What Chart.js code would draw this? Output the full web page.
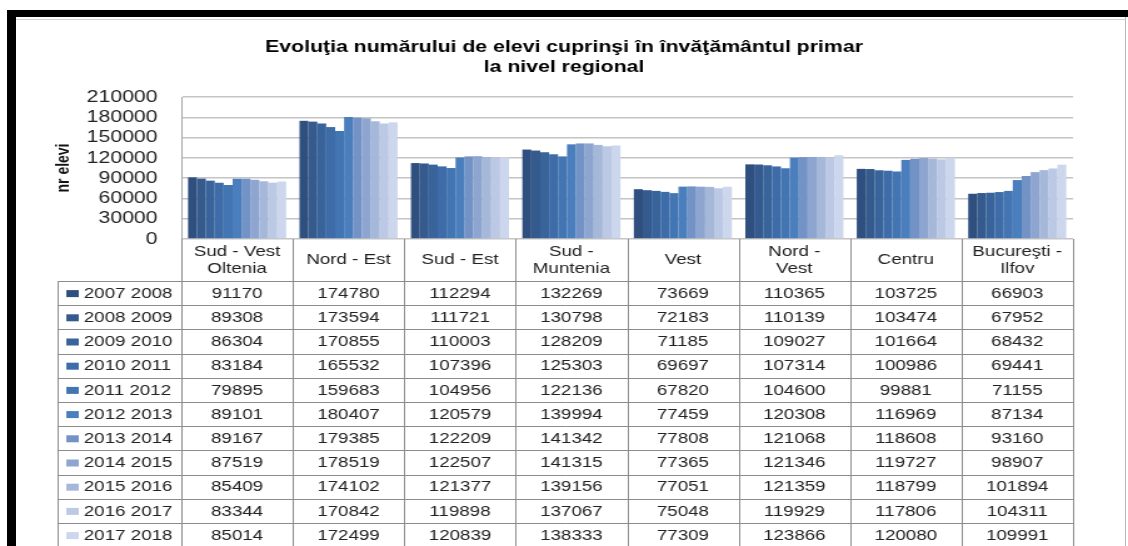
<!DOCTYPE html>
<html lang="ro">
<head>
  <meta charset="UTF-8">
  <title>Evoluţia numărului de elevi</title>
  <script src="https://cdn.jsdelivr.net/npm/chart.js"></script>
  <style>
    body { margin: 0; background: #fff; }
    #wrap { position: relative; width: 1128px; height: 546px; overflow: hidden; }
    /* the source picture is a screenshot stretched sideways, so the canvas is drawn narrow and widened by CSS */
    #chart { position: absolute; left: 0; top: 0; width: 1128px; height: 546px; }
    .frame { position: absolute; }
  </style>
</head>
<body>
  <div id="wrap">
    <canvas id="chart" width="902" height="546" style="width:1128px;height:546px"></canvas>
    <div class="frame" style="left:7px;top:10px;width:1121px;height:7px;background:#000"></div>
    <div class="frame" style="left:7px;top:10px;width:9px;height:536px;background:#000"></div>
    <div class="frame" style="left:16px;top:19px;width:1110px;height:1px;background:#d0d0d0"></div>
    <div class="frame" style="left:1125px;top:17px;width:1px;height:529px;background:#b8b8b8"></div>
  </div>

  <script>
    // regions (categories)
    const regions = [
      ['Sud - Vest', 'Oltenia'], 'Nord - Est', 'Sud - Est', ['Sud -', 'Muntenia'],
      'Vest', ['Nord -', 'Vest'], 'Centru', ['Bucureşti -', 'Ilfov']
    ];

    // school years (series)
    const years = ['2007 2008', '2008 2009', '2009 2010', '2010 2011', '2011 2012', '2012 2013',
                   '2013 2014', '2014 2015', '2015 2016', '2016 2017', '2017 2018'];

    const y0708 = [91170, 174780, 112294, 132269, 73669, 110365, 103725, 66903];
    const y0809 = [89308, 173594, 111721, 130798, 72183, 110139, 103474, 67952];
    const y0910 = [86304, 170855, 110003, 128209, 71185, 109027, 101664, 68432];
    const y1011 = [83184, 165532, 107396, 125303, 69697, 107314, 100986, 69441];
    const y1112 = [79895, 159683, 104956, 122136, 67820, 104600, 99881, 71155];
    const y1213 = [89101, 180407, 120579, 139994, 77459, 120308, 116969, 87134];
    const y1314 = [89167, 179385, 122209, 141342, 77808, 121068, 118608, 93160];
    const y1415 = [87519, 178519, 122507, 141315, 77365, 121346, 119727, 98907];
    const y1516 = [85409, 174102, 121377, 139156, 77051, 121359, 118799, 101894];
    const y1617 = [83344, 170842, 119898, 137067, 75048, 119929, 117806, 104311];
    const y1718 = [85014, 172499, 120839, 138333, 77309, 123866, 120080, 109991];

    const seriesValues = [y0708, y0809, y0910, y1011, y1112, y1213, y1314, y1415, y1516, y1617, y1718];

    const colors = ['#2f4f7f', '#345a8e', '#39639b', '#3e6ca8', '#4375b3', '#4a7ebd',
                    '#7393c6', '#8da5cf', '#a6b8da', '#bcc9e4', '#ccd6ec'];

    const yTicks = [0, 30000, 60000, 90000, 120000, 150000, 180000, 210000];

    const textColor = '#222';
    const lineColor = '#8c8c8c';

    // data table under the plot, columns follow the x scale
    const dataTable = {
      id: 'dataTable',
      afterDraw(chart) {
        const ctx = chart.ctx;
        const xs = chart.scales.x;
        const area = chart.chartArea;
        const colW = (area.right - area.left) / regions.length;
        const legendLeft = 46.5;
        const headTop = area.bottom;
        const headBottom = headTop + 42;
        const rowH = 24.2;
        const tableBottom = headBottom + years.length * rowH;

        ctx.save();
        ctx.strokeStyle = lineColor;
        ctx.lineWidth = 1;
        ctx.beginPath();
        // vertical lines
        for (let i = 0; i <= regions.length; i++) {
          const x = Math.round(area.left + i * colW) + 0.5;
          ctx.moveTo(x, headTop);
          ctx.lineTo(x, tableBottom);
        }
        ctx.moveTo(legendLeft, headBottom);
        ctx.lineTo(legendLeft, tableBottom);
        // horizontal lines
        for (let r = 0; r <= years.length; r++) {
          const y = Math.round(headBottom + r * rowH) + 0.5;
          ctx.moveTo(legendLeft, y);
          ctx.lineTo(area.right, y);
        }
        ctx.stroke();

        ctx.fillStyle = textColor;
        ctx.textAlign = 'center';
        ctx.textBaseline = 'middle';
        ctx.font = '15px "Liberation Sans", Arial, sans-serif';

        // header labels
        regions.forEach((lab, i) => {
          const cx = xs.getPixelForTick(i);
          const lines = Array.isArray(lab) ? lab : [lab];
          const mid = (headTop + headBottom) / 2;
          lines.forEach((t, k) => {
            ctx.fillText(t, cx, mid + (k - (lines.length - 1) / 2) * 17);
          });
        });

        // rows
        years.forEach((yr, r) => {
          const cy = headBottom + r * rowH + rowH / 2 + 0.5;
          ctx.fillStyle = colors[r];
          ctx.fillRect(53, cy - 3.5, 10, 7);
          ctx.fillStyle = textColor;
          ctx.textAlign = 'left';
          ctx.fillText(yr, 67, cy);
          ctx.textAlign = 'center';
          seriesValues[r].forEach((v, i) => {
            ctx.fillText(String(v), xs.getPixelForTick(i), cy);
          });
        });
        ctx.restore();
      }
    };

    new Chart(document.getElementById('chart'), {
      type: 'bar',
      data: {
        labels: regions,
        datasets: years.map((yr, i) => ({
          label: yr,
          data: seriesValues[i],
          backgroundColor: colors[i],
          borderWidth: 0,
          categoryPercentage: 0.88,
          barPercentage: 1.0
        }))
      },
      options: {
        responsive: false,
        animation: false,
        devicePixelRatio: 1,
        layout: { padding: { left: 0, right: 0, top: 0, bottom: 307 } },
        plugins: {
          legend: { display: false },
          tooltip: { enabled: false },
          title: {
            display: true,
            text: ['Evoluţia numărului de elevi cuprinşi în învăţământul primar', 'la nivel regional'],
            color: '#000',
            font: { family: '"Liberation Sans", Arial, sans-serif', size: 17, weight: 'bold', lineHeight: 20 / 17 },
            padding: { top: 37, bottom: 20 }
          }
        },
        scales: {
          x: {
            display: false
          },
          y: {
            min: 0,
            max: 210000,
            afterBuildTicks: (s) => { s.ticks = yTicks.map(v => ({ value: v })); },
            afterFit: (s) => { s.width = 145; },
            border: { display: true, color: '#a8a8a8', width: 1 },
            grid: { color: '#c4c4c4', lineWidth: 1.5, drawTicks: false },
            ticks: {
              autoSkip: false,
              padding: 19,
              color: textColor,
              font: { family: '"Liberation Sans", Arial, sans-serif', size: 17 },
              callback: (v) => String(v)
            },
            title: {
              display: true,
              text: 'nr elevi',
              color: '#111',
              font: { family: '"Liberation Sans", Arial, sans-serif', size: 14, weight: 'bold', lineHeight: 1.2 },
              padding: { top: 43, bottom: 0 }
            }
          },
          // empty right-hand axis, only keeps room at the right edge
          yRight: {
            position: 'right',
            display: true,
            min: 0,
            max: 210000,
            grid: { display: false, drawTicks: false },
            border: { display: false },
            ticks: { display: false },
            afterFit: (s) => { s.width = 44; }
          }
        }
      },
      plugins: [dataTable]
    });
  </script>
</body>
</html>
